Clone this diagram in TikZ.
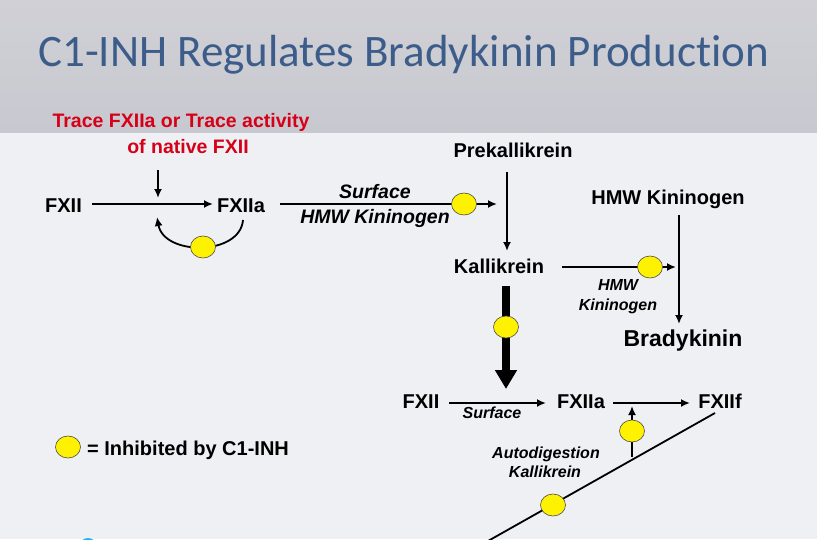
\documentclass[tikz,border=0pt]{standalone}
\usepackage{fontspec}
\setmainfont{Liberation Sans}
\newfontfamily\titlefont{Carlito}[Ligatures=NoCommon]
\usetikzlibrary{arrows.meta,shapes.geometric,calc}
\definecolor{titleblue}{RGB}{60,92,138}
\definecolor{tracered}{RGB}{214,0,24}
\definecolor{bandtop}{RGB}{208,208,214}
\definecolor{bandbot}{RGB}{200,200,208}
\definecolor{lowbg}{RGB}{238,240,244}
\definecolor{dotblue}{RGB}{40,180,240}
\begin{document}
\begin{tikzpicture}[x=1pt,y=-1pt,
  lbl/.style={font=\fontsize{20}{22}\selectfont\bfseries, anchor=base, inner sep=0},
  ital/.style={font=\fontsize{19.5}{22}\selectfont\bfseries\itshape, anchor=base, inner sep=0},
  smallital/.style={font=\fontsize{16}{18}\selectfont\bfseries\itshape, anchor=base, inner sep=0},
  redtxt/.style={font=\fontsize{19.5}{22}\selectfont\bfseries, text=tracered, anchor=base, inner sep=0},
  arr/.style={line width=1.8pt, -{Latex[length=9pt,width=8pt]}},
  bigarr/.style={line width=7.5pt, -{Triangle[length=19pt,width=21pt]}},
  plain/.style={line width=1.8pt},
  inh/.style={ellipse, draw=black!70, line width=0.6pt, fill=yellow, minimum width=25pt, minimum height=22pt, inner sep=0},
]
\useasboundingbox (0,0) rectangle (817,539);
% background
\fill[lowbg] (0,0) rectangle (817,539);
\shade[top color=bandtop, bottom color=bandbot] (0,0) rectangle (817,132);
\begin{scope}
  \clip (0,0) rectangle (817,539);
  \fill[dotblue] (88,547) circle (9);
\end{scope}

% title
\node[font=\titlefont\fontsize{45}{50}\selectfont, text=titleblue, anchor=base west, inner sep=0] (title) at (38,66) {C1-INH Regulates Bradykinin Production};

% trace text
\node[redtxt] (trace1) at (181,127) {Trace FXIIa or Trace activity};
\node[redtxt] (trace2) at (188,153) {of native FXII};

% upper-left reaction
\node[lbl] (fxiiA) at (63.5,212) {FXII};
\node[lbl] (fxiiaA) at (241,212) {FXIIa};
\coordinate (a1s) at (92,204);
\coordinate (a1e) at (213,204);
\draw[arr] (a1s) -- (a1e);
\coordinate (tr1) at (158,170);
\coordinate (tr2) at (158,198);
\draw[arr] (tr1) -- (tr2);
\coordinate (c1s) at (243,220);
\coordinate (c1e) at (157,217);
\draw[arr] (c1s) .. controls (240,256) and (164,256) .. (c1e);
\node[inh] (inh1) at (203,247) {};

% surface arrow to prekallikrein
\coordinate (a2s) at (280,204);
\coordinate (a2e) at (497,204);
\draw[arr] (a2s) -- (a2e);
\node[ital] (surf1) at (375,198) {Surface};
\node[ital] (hmw1) at (375,223) {HMW Kininogen};
\node[inh] (inh2) at (464,204) {};

% prekallikrein -> kallikrein
\node[lbl] (prek) at (513,157) {Prekallikrein};
\node[lbl] (kall) at (499,273) {Kallikrein};
\coordinate (a3s) at (507,172);
\coordinate (a3e) at (507,251);
\draw[arr] (a3s) -- (a3e);

% kallikrein -> bradykinin
\coordinate (a4s) at (562,267);
\coordinate (a4e) at (676,267);
\draw[arr] (a4s) -- (a4e);
\node[inh] (inh3) at (650,267) {};
\node[smallital] (hmw2a) at (618,290) {HMW};
\node[smallital] (hmw2b) at (618,310) {Kininogen};
\node[lbl] (hmwk) at (668,204) {HMW Kininogen};
\node[font=\fontsize{23}{26}\selectfont\bfseries, anchor=base, inner sep=0] (brady) at (683,346) {Bradykinin};
\coordinate (a5s) at (679,215);
\coordinate (a5e) at (679,324);
\draw[arr] (a5s) -- (a5e);

% thick arrow
\coordinate (a6s) at (506,286);
\coordinate (a6e) at (506,389);
\draw[bigarr] (a6s) -- (a6e);
\node[inh] (inh4) at (506,327) {};

% lower reaction
\node[lbl] (fxiiB) at (421,408) {FXII};
\node[lbl] (fxiiaB) at (581,408) {FXIIa};
\node[lbl] (fxiif) at (720,408) {FXIIf};
\coordinate (a7s) at (449,403);
\coordinate (a7e) at (546,403);
\draw[arr] (a7s) -- (a7e);
\node[smallital] (surf2) at (492,418) {Surface};
\coordinate (a8s) at (613,403);
\coordinate (a8e) at (690,403);
\draw[arr] (a8s) -- (a8e);
\coordinate (a9s) at (632,457);
\coordinate (a9e) at (632,406);
\draw[arr] (a9s) -- (a9e);
\node[inh] (inh5) at (632,431) {};
\coordinate (d1) at (715,413);
\coordinate (d2) at (488,541);
\draw[plain] (d1) -- (d2);
\node[inh] (inh6) at (553,505) {};
\node[smallital] (auto) at (546,458) {Autodigestion};
\node[smallital] (kall2) at (545,477) {Kallikrein};

% legend
\node[inh] (leg) at (68,447) {};
\node[font=\fontsize{20}{22}\selectfont\bfseries, anchor=base west, inner sep=0] (legtxt) at (87,455) {= Inhibited by C1-INH};
\end{tikzpicture}
\end{document}
